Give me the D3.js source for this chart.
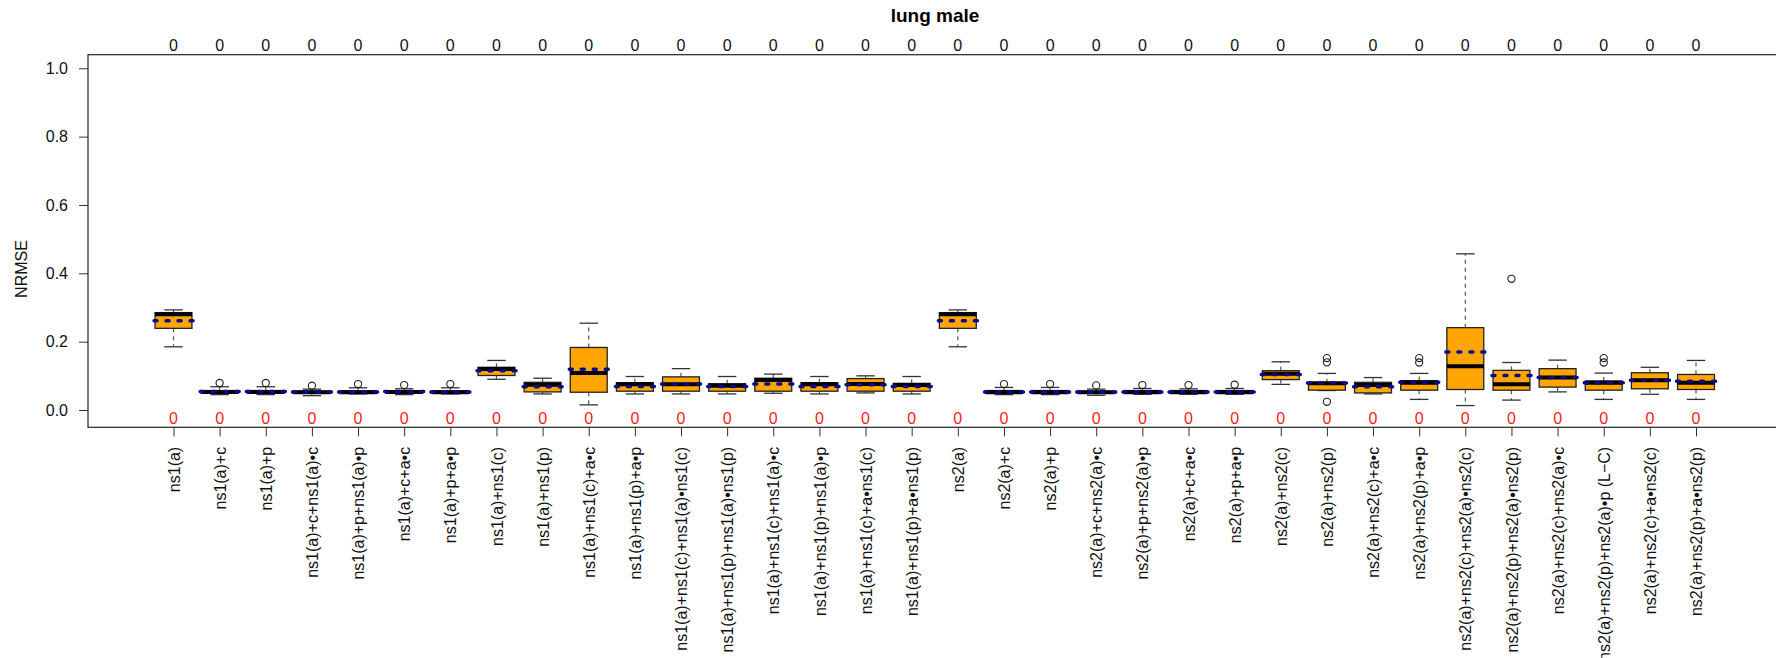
<!DOCTYPE html>
<html>
<head>
<meta charset="utf-8">
<script src="https://cdn.jsdelivr.net/npm/d3@7"></script>
<style>
  html, body { margin: 0; padding: 0; background: #fff; }
  svg { display: block; font-family: "Liberation Sans", Arial, sans-serif; }
</style>
</head>
<body>
<svg id="chart" width="1776" height="658"></svg>
<script>
// Model formulas compared on the x axis
const categories = [
  "ns1(a)", "ns1(a)+c", "ns1(a)+p", "ns1(a)+c+ns1(a)•c", "ns1(a)+p+ns1(a)•p",
  "ns1(a)+c+a•c", "ns1(a)+p+a•p", "ns1(a)+ns1(c)", "ns1(a)+ns1(p)",
  "ns1(a)+ns1(c)+a•c", "ns1(a)+ns1(p)+a•p", "ns1(a)+ns1(c)+ns1(a)•ns1(c)",
  "ns1(a)+ns1(p)+ns1(a)•ns1(p)", "ns1(a)+ns1(c)+ns1(a)•c", "ns1(a)+ns1(p)+ns1(a)•p",
  "ns1(a)+ns1(c)+a•ns1(c)", "ns1(a)+ns1(p)+a•ns1(p)",
  "ns2(a)", "ns2(a)+c", "ns2(a)+p", "ns2(a)+c+ns2(a)•c", "ns2(a)+p+ns2(a)•p",
  "ns2(a)+c+a•c", "ns2(a)+p+a•p", "ns2(a)+ns2(c)", "ns2(a)+ns2(p)",
  "ns2(a)+ns2(c)+a•c", "ns2(a)+ns2(p)+a•p", "ns2(a)+ns2(c)+ns2(a)•ns2(c)",
  "ns2(a)+ns2(p)+ns2(a)•ns2(p)", "ns2(a)+ns2(c)+ns2(a)•c", "ns2(a)+ns2(p)+ns2(a)•p (L\u2212C)",
  "ns2(a)+ns2(c)+a•ns2(c)", "ns2(a)+ns2(p)+a•ns2(p)"
];

// Box statistics (NRMSE)
const whiskerLow = [0.185, 0.045, 0.045, 0.042, 0.047, 0.045, 0.047, 0.090, 0.047,
  0.015, 0.047, 0.047, 0.047, 0.049, 0.047, 0.050, 0.047,
  0.185, 0.045, 0.045, 0.043, 0.046, 0.046, 0.046, 0.075, 0.057,
  0.047, 0.031, 0.013, 0.029, 0.053, 0.031, 0.046, 0.031];
const q1 = [0.239, 0.049, 0.049, 0.049, 0.049, 0.049, 0.049, 0.101, 0.053,
  0.052, 0.055, 0.055, 0.055, 0.055, 0.055, 0.055, 0.055,
  0.239, 0.049, 0.049, 0.049, 0.049, 0.049, 0.049, 0.089, 0.058,
  0.050, 0.058, 0.060, 0.058, 0.067, 0.058, 0.062, 0.060];
const median = [0.280, 0.053, 0.053, 0.052, 0.052, 0.053, 0.052, 0.120, 0.074,
  0.108, 0.075, 0.075, 0.071, 0.088, 0.075, 0.076, 0.073,
  0.280, 0.052, 0.052, 0.052, 0.052, 0.052, 0.052, 0.106, 0.078,
  0.073, 0.080, 0.128, 0.075, 0.095, 0.080, 0.087, 0.080];
const q3 = [0.285, 0.057, 0.057, 0.055, 0.056, 0.056, 0.056, 0.125, 0.081,
  0.183, 0.080, 0.097, 0.077, 0.093, 0.080, 0.092, 0.078,
  0.285, 0.057, 0.057, 0.055, 0.057, 0.057, 0.057, 0.115, 0.080,
  0.081, 0.086, 0.241, 0.116, 0.121, 0.085, 0.109, 0.104];
const whiskerHigh = [0.293, 0.068, 0.068, 0.061, 0.065, 0.062, 0.065, 0.145, 0.093,
  0.254, 0.098, 0.121, 0.098, 0.105, 0.098, 0.100, 0.098,
  0.293, 0.066, 0.066, 0.061, 0.063, 0.062, 0.063, 0.141, 0.107,
  0.095, 0.107, 0.457, 0.139, 0.146, 0.108, 0.125, 0.145];
const means = [0.261, 0.054, 0.054, 0.053, 0.053, 0.054, 0.053, 0.115, 0.068,
  0.119, 0.069, 0.076, 0.069, 0.076, 0.069, 0.074, 0.069,
  0.261, 0.053, 0.053, 0.053, 0.053, 0.053, 0.053, 0.104, 0.079,
  0.068, 0.081, 0.170, 0.101, 0.095, 0.080, 0.087, 0.084];
const outliers = [[], [0.079], [0.079], [0.071], [0.076], [0.073], [0.076], [], [],
  [], [], [], [], [], [], [], [],
  [], [0.076], [0.076], [0.072], [0.073], [0.073], [0.074], [], [0.152, 0.1395, 0.024],
  [], [0.152, 0.139], [], [0.384], [], [0.152, 0.139], [], []];

// Counts printed above and inside the plot
const topCounts = categories.map(() => 0);
const bottomCounts = categories.map(() => 0);

const yTicks = [0, 0.2, 0.4, 0.6, 0.8, 1.0];

const svg = d3.select("#chart");
svg.append("rect").attr("width", 1776).attr("height", 658).attr("fill", "#fff");

const frame = { left: 88, right: 1782, top: 54.7, bottom: 427.3 };

const x = d3.scalePoint().domain(categories).range([173.5, 1696]);
const y = d3.scaleLinear().domain([0, 1]).range([410, 68.3]);
const step = x.step();
const boxHalf = step * 0.4;
const stapleHalf = boxHalf / 2;

// Title
svg.append("text")
  .attr("x", (frame.left + frame.right) / 2)
  .attr("y", 22)
  .attr("text-anchor", "middle")
  .attr("font-size", 19)
  .attr("font-weight", "bold")
  .attr("fill", "#000")
  .text("lung male");

// Y axis
const yAxis = svg.append("g")
  .attr("transform", `translate(${frame.left},0)`)
  .call(d3.axisLeft(y).tickValues(yTicks).tickFormat(d3.format(".1f")).tickSize(9).tickPadding(11));
yAxis.select(".domain").remove();
yAxis.selectAll("line").attr("stroke", "#333");
yAxis.selectAll("text").attr("font-size", 16).attr("fill", "#111")
  .attr("font-family", "Liberation Sans, Arial, sans-serif");

svg.append("text")
  .attr("transform", "translate(21,269) rotate(-90)")
  .attr("text-anchor", "middle")
  .attr("dy", "0.35em")
  .attr("font-size", 16)
  .attr("fill", "#111")
  .text("NRMSE");

// X axis with vertical labels
const xAxis = svg.append("g")
  .attr("transform", `translate(0,${frame.bottom})`)
  .call(d3.axisBottom(x).tickSize(9).tickPadding(10));
xAxis.select(".domain").remove();
xAxis.selectAll("line").attr("stroke", "#333");
xAxis.selectAll("text")
  .attr("font-size", 16)
  .attr("fill", "#111")
  .attr("font-family", "Liberation Sans, Arial, sans-serif")
  .attr("transform", "rotate(-90)")
  .attr("text-anchor", "end")
  .attr("x", -19.5)
  .attr("y", 0)
  .attr("dy", "0.35em");

// Plot frame (right side runs past the edge)
svg.append("rect")
  .attr("x", frame.left).attr("y", frame.top)
  .attr("width", frame.right - frame.left).attr("height", frame.bottom - frame.top)
  .attr("fill", "none").attr("stroke", "#222").attr("stroke-width", 1.2);

// Counts above the plot
svg.append("g").selectAll("text").data(categories).join("text")
  .attr("x", d => x(d)).attr("y", 50.5)
  .attr("text-anchor", "middle").attr("font-size", 16).attr("fill", "#111")
  .text((d, i) => topCounts[i]);

// Counts inside the plot, near the bottom
svg.append("g").selectAll("text").data(categories).join("text")
  .attr("x", d => x(d)).attr("y", 423.5)
  .attr("text-anchor", "middle").attr("font-size", 16).attr("fill", "#ff1a1a")
  .text((d, i) => bottomCounts[i]);

// Boxes
const boxes = svg.append("g").selectAll("g").data(categories).join("g")
  .attr("transform", d => `translate(${x(d)},0)`);

// dashed whiskers
boxes.append("line")
  .attr("y1", (d, i) => y(q3[i])).attr("y2", (d, i) => y(whiskerHigh[i]))
  .attr("stroke", "#555").attr("stroke-width", 1.2).attr("stroke-dasharray", "4,4");
boxes.append("line")
  .attr("y1", (d, i) => y(q1[i])).attr("y2", (d, i) => y(whiskerLow[i]))
  .attr("stroke", "#555").attr("stroke-width", 1.2).attr("stroke-dasharray", "4,4");
// staples
boxes.append("line")
  .attr("x1", -stapleHalf).attr("x2", stapleHalf)
  .attr("y1", (d, i) => y(whiskerHigh[i])).attr("y2", (d, i) => y(whiskerHigh[i]))
  .attr("stroke", "#333").attr("stroke-width", 1.3);
boxes.append("line")
  .attr("x1", -stapleHalf).attr("x2", stapleHalf)
  .attr("y1", (d, i) => y(whiskerLow[i])).attr("y2", (d, i) => y(whiskerLow[i]))
  .attr("stroke", "#333").attr("stroke-width", 1.3);
// box body
boxes.append("rect")
  .attr("x", -boxHalf).attr("width", 2 * boxHalf)
  .attr("y", (d, i) => y(q3[i]))
  .attr("height", (d, i) => Math.max(0.5, y(q1[i]) - y(q3[i])))
  .attr("fill", "#FFA500").attr("stroke", "#222").attr("stroke-width", 1.3);
// median
boxes.append("line")
  .attr("x1", -boxHalf).attr("x2", boxHalf)
  .attr("y1", (d, i) => y(median[i])).attr("y2", (d, i) => y(median[i]))
  .attr("stroke", "#000").attr("stroke-width", 4);
// mean (dotted)
boxes.append("line")
  .attr("x1", -boxHalf - 1).attr("x2", boxHalf + 2)
  .attr("y1", (d, i) => y(means[i])).attr("y2", (d, i) => y(means[i]))
  .attr("stroke", "#0a0a8a").attr("stroke-width", 3.5)
  .attr("stroke-linecap", "round").attr("stroke-dasharray", "3,9");
// outliers
boxes.each(function(d, i) {
  d3.select(this).selectAll("circle").data(outliers[i]).join("circle")
    .attr("cx", 0).attr("cy", v => y(v)).attr("r", 3.6)
    .attr("fill", "none").attr("stroke", "#222").attr("stroke-width", 1.1);
});
</script>
</body>
</html>
